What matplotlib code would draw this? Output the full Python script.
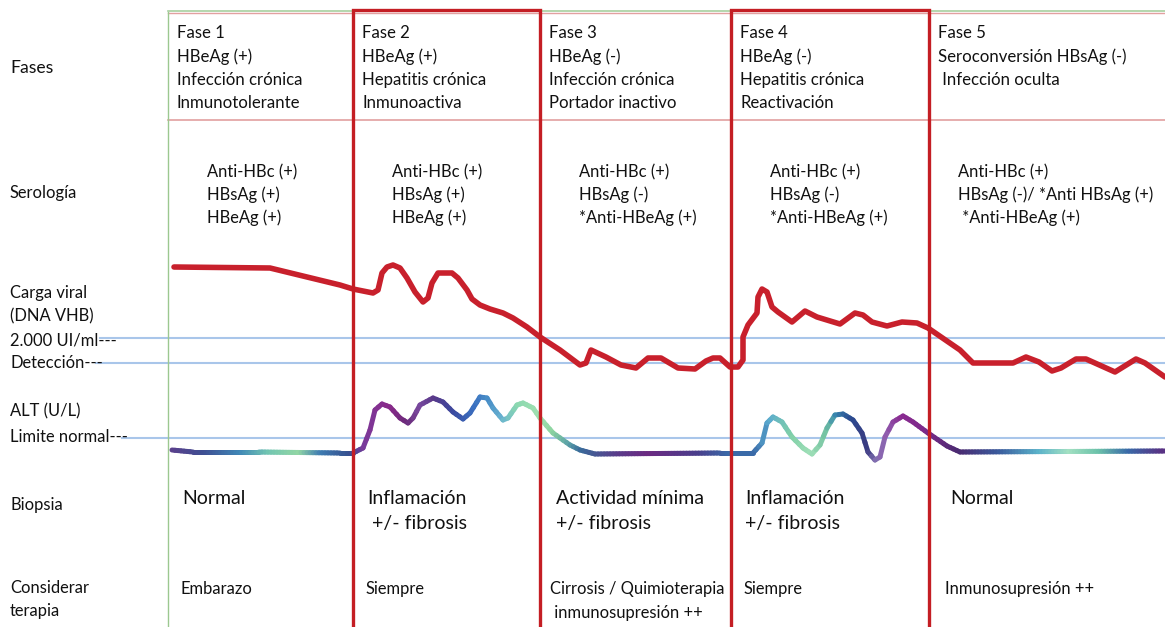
import numpy as np
import matplotlib
matplotlib.use("Agg")
import matplotlib.pyplot as plt
from matplotlib.collections import LineCollection
from matplotlib.colors import to_rgb

# ==============================================================================
# DATOS (en coordenadas de píxel del esquema)
# ==============================================================================
limites_fase = [168, 353, 540, 731, 929, 1165]

fases_titulo = [
    ["Fase 1", "HBeAg (+)", "Infección crónica", "Inmunotolerante"],
    ["Fase 2", "HBeAg (+)", "Hepatitis crónica", "Inmunoactiva"],
    ["Fase 3", "HBeAg (-)", "Infección crónica", "Portador inactivo"],
    ["Fase 4", "HBeAg (-)", "Hepatitis crónica", "Reactivación"],
    ["Fase 5", "Seroconversión HBsAg (-)", " Infección oculta"],
]
serologia = [
    ["Anti-HBc (+)", "HBsAg (+)", "HBeAg (+)"],
    ["Anti-HBc (+)", "HBsAg (+)", "HBeAg (+)"],
    ["Anti-HBc (+)", "HBsAg (-)", "*Anti-HBeAg (+)"],
    ["Anti-HBc (+)", "HBsAg (-)", "*Anti-HBeAg (+)"],
    ["Anti-HBc (+)", "HBsAg (-)/ *Anti HBsAg (+)", " *Anti-HBeAg (+)"],
]
biopsia = [
    ["Normal"],
    ["Inflamación", " +/- fibrosis"],
    ["Actividad mínima", "+/- fibrosis"],
    ["Inflamación", "+/- fibrosis"],
    ["Normal"],
]
terapia = [
    ["Embarazo"],
    ["Siempre"],
    ["Cirrosis / Quimioterapia", " inmunosupresión ++"],
    ["Siempre"],
    ["Inmunosupresión ++"],
]

# Carga viral (DNA VHB)
carga_x = [174, 270, 307, 340, 353, 373, 378, 382, 387, 393, 400, 407, 415, 423,
           428, 432, 438, 452, 458, 467, 472, 480, 490, 503, 513, 527, 540, 560,
           580, 586, 591, 606, 621, 636, 648, 661, 678, 695, 706, 713, 720, 730,
           738, 743, 743, 748, 757, 758, 762, 767, 772, 778, 792, 805, 817, 840,
           855, 863, 872, 887, 902, 917, 928, 960, 973, 1006, 1013, 1026, 1039,
           1052, 1061, 1076, 1086, 1115, 1136, 1145, 1165]
carga_y = [267, 268, 277, 285, 289, 293, 290, 273, 267, 265, 268, 278, 292, 302,
           298, 283, 273, 273, 278, 290, 299, 305, 309, 313, 318, 327, 337, 350,
           365, 363, 350, 357, 365, 368, 358, 358, 368, 369, 361, 358, 358, 367,
           367, 360, 337, 325, 313, 297, 289, 292, 307, 312, 322, 311, 317, 324,
           313, 315, 322, 326, 322, 323, 328, 350, 363, 363, 363, 357, 362, 371,
           368, 359, 359, 372, 359, 363, 377]

# ALT (U/L)
alt_x = [172, 193, 259, 340, 353, 363, 370, 375, 382, 390, 400, 408, 413, 420,
         433, 443, 453, 463, 470, 480, 487, 493, 503, 508, 517, 523, 533, 540,
         553, 570, 580, 595, 720, 753, 762, 767, 773, 782, 792, 803, 812, 820,
         827, 835, 843, 853, 862, 868, 875, 880, 885, 893, 903, 913, 928, 947,
         960, 1165]
alt_y = [450, 452, 452, 453, 453, 448, 430, 410, 404, 407, 418, 423, 418, 405,
         398, 402, 412, 419, 413, 397, 398, 408, 420, 418, 405, 403, 408, 418,
         433, 445, 450, 454, 453, 453, 443, 423, 417, 422, 437, 448, 454, 445,
         428, 415, 414, 420, 433, 452, 460, 457, 437, 422, 416, 422, 433, 446,
         452, 451]

# Referencias horizontales: (y, x inicio)
referencias = [(338, 100), (363, 96), (438, 122)]

# ==============================================================================
# ESTILO
# ==============================================================================
plt.rcParams['font.family'] = ['Lato', 'DejaVu Sans']
ROJO = '#c41e24'
ROJO_CURVA = '#c8202c'
AZUL_REF = '#a9c6ea'
PX = 0.72  # puntos por píxel a 100 dpi

# Gradiente de color de la curva ALT (x, color)
gradiente = [
    (172, '#5b3f8c'), (205, '#3e4f92'), (240, '#3f86b6'), (270, '#72c6b2'),
    (300, '#92d6a4'), (322, '#3f7cb2'), (350, '#35508f'), (365, '#7a3a9a'),
    (390, '#8a2a8a'), (408, '#6a2a7a'), (420, '#7a4aa0'), (435, '#5a3a8a'),
    (455, '#3a4aa0'), (475, '#3a70c0'), (490, '#4a90c8'), (503, '#6ab4d0'),
    (518, '#8ad8b0'), (540, '#a0e0b0'), (553, '#8cd4a0'), (570, '#5aa0a8'),
    (582, '#3a6a9a'), (620, '#5a3b8a'), (650, '#6c2a82'), (700, '#4a3f8c'),
    (730, '#3a6aa8'), (755, '#3a6aa8'), (770, '#5aaad0'), (792, '#80d0a8'),
    (812, '#a0e0b8'), (827, '#70c0a0'), (836, '#3a8ab0'), (852, '#2a4a90'),
    (868, '#3a3a80'), (876, '#8070b0'), (886, '#9060b0'), (903, '#8a2a90'),
    (928, '#7a2a8a'), (960, '#4a2a70'), (1000, '#3a5a9c'), (1040, '#5ab2ca'),
    (1070, '#a2e0c2'), (1100, '#6cc2aa'), (1130, '#3a6aa8'), (1165, '#5a3082'),
]


def color_en(x):
    gx = np.array([g[0] for g in gradiente], dtype=float)
    gc = np.array([to_rgb(g[1]) for g in gradiente])
    return np.array([np.interp(x, gx, gc[:, k]) for k in range(3)]).T


def texto_bloque(ax, x, y0, lineas, paso, size, **kw):
    for i, t in enumerate(lineas):
        ax.text(x, y0 + i * paso, t, fontsize=size * PX, va='center', ha='left',
                color='#111111', **kw)


def main():
    fig = plt.figure(figsize=(11.65, 6.27), dpi=100)
    ax = fig.add_axes([0, 0, 1, 1])
    ax.set_xlim(0, 1165)
    ax.set_ylim(627, 0)
    ax.axis('off')

    # Caja de cabecera
    ax.plot([168, 1165], [11, 11], color='#a8d0a0', lw=1.2)
    ax.plot([168, 1165], [13, 13], color='#e2a0a0', lw=1.0)
    ax.plot([168, 1165], [120, 120], color='#e2a0a0', lw=1.2)
    ax.plot([168, 168], [12, 627], color='#9cc890', lw=1.0)

    # Líneas de referencia
    for y, x0 in referencias:
        ax.plot([x0, 1165], [y, y], color=AZUL_REF, lw=1.5, zorder=1)

    # Recuadros rojos de fases 2 y 4
    for i in (1, 3):
        x0, x1 = limites_fase[i], limites_fase[i + 1]
        ax.plot([x0, x0, x1, x1], [640, 10, 10, 640], color=ROJO, lw=2.4,
                solid_joinstyle='miter', zorder=4)

    # Carga viral
    ax.plot(carga_x, carga_y, color=ROJO_CURVA, lw=4.0, solid_capstyle='round',
            solid_joinstyle='round', zorder=3)

    # ALT con gradiente (subdivisión sólo para el color)
    segs, cols = [], []
    for i in range(len(alt_x) - 1):
        n = max(1, int(abs(alt_x[i + 1] - alt_x[i]) / 3))
        xs = np.linspace(alt_x[i], alt_x[i + 1], n + 1)
        ys = np.linspace(alt_y[i], alt_y[i + 1], n + 1)
        for k in range(n):
            segs.append([(xs[k], ys[k]), (xs[k + 1], ys[k + 1])])
            cols.append(color_en(0.5 * (xs[k] + xs[k + 1])))
    lc = LineCollection(segs, colors=cols, linewidths=3.6, capstyle='round',
                        joinstyle='round', zorder=3)
    ax.add_collection(lc)

    # Etiquetas de filas
    ax.text(10, 68, "Fases", fontsize=17.5 * PX, va='center', color='#111111')
    ax.text(10, 193, "Serología", fontsize=16.5 * PX, va='center', color='#111111')
    texto_bloque(ax, 10, 293, ["Carga viral", "(DNA VHB)", "2.000 UI/ml---",
                               "Detección---"], 23.5, 16.5)
    texto_bloque(ax, 10, 411, ["ALT (U/L)", "Limite normal---"], 26, 16.5)
    ax.text(10, 505, "Biopsia", fontsize=16.5 * PX, va='center', color='#111111')
    texto_bloque(ax, 10, 588, ["Considerar", "terapia"], 23, 16.5)

    # Contenido de cada fase
    for i in range(5):
        x0 = limites_fase[i]
        texto_bloque(ax, x0 + 9, 33, fases_titulo[i], 23.3, 16.8)
        texto_bloque(ax, x0 + 39 if i < 4 else x0 + 29, 172, serologia[i], 23, 16.5)
        texto_bloque(ax, x0 + (14 if i != 2 else 16) if i < 4 else x0 + 21,
                     498, biopsia[i], 26, 19.5)
        texto_bloque(ax, x0 + (13 if i != 2 else 10) if i < 4 else x0 + 16,
                     589, terapia[i], 24, 16.5)

    fig.savefig("out.png", dpi=100, facecolor='white')
    plt.close(fig)


if __name__ == "__main__":
    main()
